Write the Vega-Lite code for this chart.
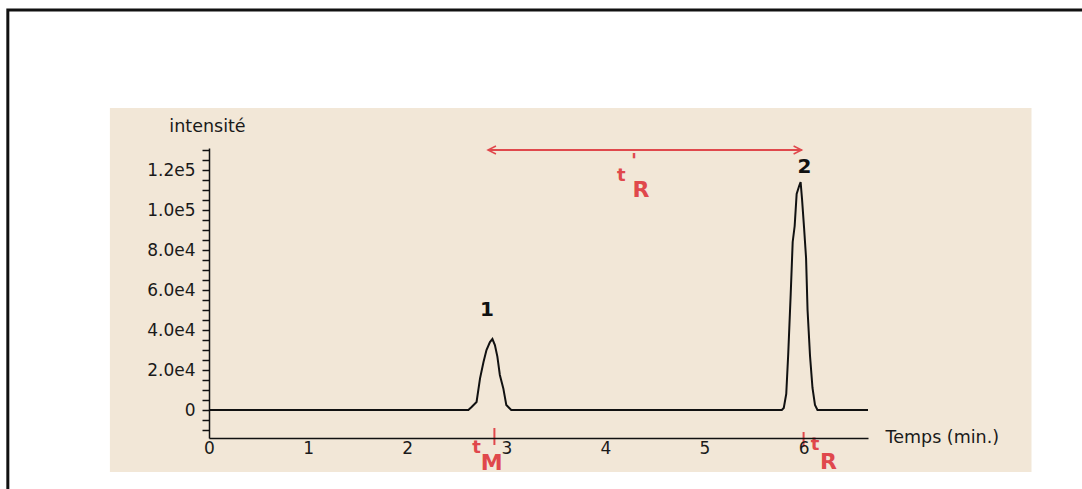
{
  "$schema": "https://vega.github.io/schema/vega-lite/v6.json",
  "width": 659,
  "height": 290,
  "autosize": {"type": "none"},
  "padding": {"left": 209, "top": 148, "right": 214, "bottom": 51},
  "background": "white",
  "config": {"view": {"stroke": null}, "font": "DejaVu Sans"},
  "datasets": {
    "panel": [{"t": -1.0, "t2": 8.3, "v": 151000, "v2": -31000}],
    "frame": [{"t": -2.03, "t2": 9.5, "v": 200000, "v2": -60000}],
    "signal": [
      {"t": 0, "v": 0}, {"t": 2.617, "v": 0}, {"t": 2.65, "v": 1500}, {"t": 2.70, "v": 4000},
      {"t": 2.735, "v": 15800}, {"t": 2.77, "v": 24000}, {"t": 2.80, "v": 30000}, {"t": 2.835, "v": 34000},
      {"t": 2.86, "v": 35500}, {"t": 2.885, "v": 32500}, {"t": 2.91, "v": 26700}, {"t": 2.935, "v": 17500},
      {"t": 2.97, "v": 10800}, {"t": 3.00, "v": 2500}, {"t": 3.05, "v": 0}, {"t": 5.78, "v": 0},
      {"t": 5.80, "v": 1000}, {"t": 5.825, "v": 8000}, {"t": 5.845, "v": 28000}, {"t": 5.87, "v": 58000},
      {"t": 5.89, "v": 84000}, {"t": 5.91, "v": 92000}, {"t": 5.93, "v": 108000}, {"t": 5.955, "v": 112000},
      {"t": 5.97, "v": 114000}, {"t": 5.985, "v": 105000}, {"t": 6.005, "v": 91000}, {"t": 6.025, "v": 76000},
      {"t": 6.04, "v": 50000}, {"t": 6.065, "v": 27000}, {"t": 6.09, "v": 11000}, {"t": 6.115, "v": 2500},
      {"t": 6.14, "v": 0}, {"t": 6.65, "v": 0}
    ],
    "peaks": [{"t": 2.805, "v": 50000, "label": "1"}, {"t": 6.01, "v": 121600, "label": "2"}],
    "redT": [{"t": 4.16, "v": 117000, "label": "t"}, {"t": 2.70, "v": -19200, "label": "t"}, {"t": 6.115, "v": -17500, "label": "t"}],
    "redPrime": [{"t": 4.29, "v": 124500, "label": "'"}],
    "redSub": [{"t": 4.36, "v": 110000, "label": "R"}, {"t": 2.853, "v": -26700, "label": "M"}, {"t": 6.25, "v": -25800, "label": "R"}],
    "redTicks": [{"t": 2.88, "v": -9000, "v2": -17500}, {"t": 6.0, "v": -11000, "v2": -18500}],
    "arrow": [{"t": 2.815, "t2": 5.98, "v": 130000}],
    "arrowLeft": [{"t": 2.815, "v": 130000}],
    "arrowRight": [{"t": 5.98, "v": 130000}]
  },
  "encoding": {
    "x": {
      "field": "t", "type": "quantitative",
      "scale": {"domain": [0, 6.65], "nice": false, "zero": false},
      "axis": {
        "title": "Temps (min.)", "titleX": 676, "titleY": -1, "titleAlign": "left", "titleBaseline": "middle",
        "titleFontWeight": "normal", "titleFontSize": 17.5, "titleColor": "#1a1a1a",
        "values": [0, 1, 2, 3, 4, 5, 6], "format": "d", "ticks": false, "labelPadding": 2,
        "labelFontSize": 17, "labelColor": "#1a1a1a", "labelFlush": false,
        "domainColor": "#111111", "domainWidth": 1.5, "grid": false, "zindex": 1
      }
    },
    "y": {
      "field": "v", "type": "quantitative",
      "scale": {"domain": [-14000, 131000], "nice": false, "zero": false},
      "axis": {
        "title": "intensité", "titleAngle": 0, "titleX": -2, "titleY": -22, "titleAlign": "center", "titleBaseline": "middle",
        "titleFontWeight": "normal", "titleFontSize": 17.5, "titleColor": "#1a1a1a",
        "values": [-10000, -5000, 0, 5000, 10000, 15000, 20000, 25000, 30000, 35000, 40000, 45000, 50000, 55000, 60000, 65000, 70000, 75000, 80000, 85000, 90000, 95000, 100000, 105000, 110000, 115000, 120000, 125000, 130000],
        "labelExpr": "datum.value % 20000 == 0 ? (datum.value == 0 ? '0' : replace(format(datum.value, '.1e'), '+', '')) : ''",
        "labelFontSize": 17, "labelColor": "#1a1a1a", "labelPadding": 7, "labelOverlap": false, "labelBound": false, "labelFlush": false,
        "tickSize": 7, "tickColor": "#111111", "tickWidth": 1.5,
        "domainColor": "#111111", "domainWidth": 1.5, "grid": false, "zindex": 1
      }
    }
  },
  "layer": [
    {
      "data": {"name": "panel"},
      "mark": {"type": "rect", "fill": "#F2E7D7"},
      "encoding": {"x2": {"field": "t2"}, "y2": {"field": "v2"}}
    },
    {
      "data": {"name": "frame"},
      "mark": {"type": "rect", "fill": "transparent", "stroke": "#111111", "strokeWidth": 3},
      "encoding": {"x2": {"field": "t2"}, "y2": {"field": "v2"}}
    },
    {
      "data": {"name": "signal"},
      "mark": {"type": "line", "color": "#111111", "strokeWidth": 2}
    },
    {
      "data": {"name": "peaks"},
      "mark": {"type": "text", "color": "#111111", "fontSize": 20, "fontWeight": "bold", "align": "center", "baseline": "middle"},
      "encoding": {"text": {"field": "label"}}
    },
    {
      "data": {"name": "arrow"},
      "mark": {"type": "rule", "color": "#E0484C", "strokeWidth": 2},
      "encoding": {"x2": {"field": "t2"}}
    },
    {
      "data": {"name": "arrowLeft"},
      "mark": {"type": "point", "shape": "M2,-1L0,0L2,1", "filled": false, "stroke": "#E0484C", "strokeWidth": 1.5, "size": 64, "opacity": 1}
    },
    {
      "data": {"name": "arrowRight"},
      "mark": {"type": "point", "shape": "M-2,-1L0,0L-2,1", "filled": false, "stroke": "#E0484C", "strokeWidth": 1.5, "size": 64, "opacity": 1}
    },
    {
      "data": {"name": "redTicks"},
      "mark": {"type": "rule", "color": "#E0484C", "strokeWidth": 2},
      "encoding": {"y2": {"field": "v2"}}
    },
    {
      "data": {"name": "redT"},
      "mark": {"type": "text", "color": "#E0484C", "fontSize": 18, "fontWeight": "bold", "align": "center", "baseline": "middle"},
      "encoding": {"text": {"field": "label"}}
    },
    {
      "data": {"name": "redPrime"},
      "mark": {"type": "text", "color": "#E0484C", "fontSize": 20, "fontWeight": "bold", "align": "center", "baseline": "middle"},
      "encoding": {"text": {"field": "label"}}
    },
    {
      "data": {"name": "redSub"},
      "mark": {"type": "text", "color": "#E0484C", "fontSize": 22, "fontWeight": "bold", "align": "center", "baseline": "middle"},
      "encoding": {"text": {"field": "label"}}
    }
  ]
}
